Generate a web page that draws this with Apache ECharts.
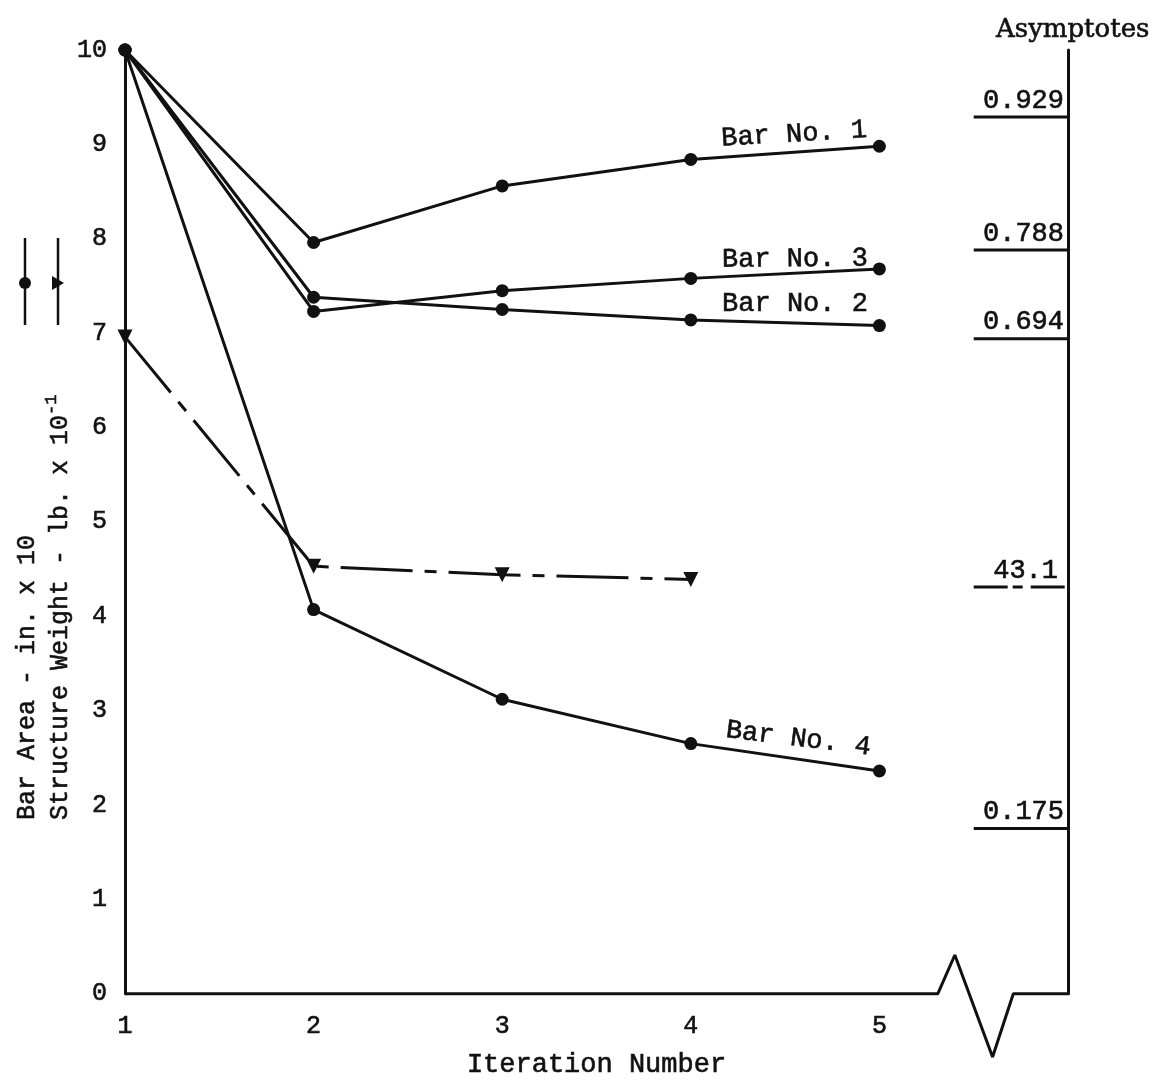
<!DOCTYPE html>
<html>
<head>
<meta charset="utf-8">
<script src="https://cdn.jsdelivr.net/npm/echarts@6/dist/echarts.min.js"></script>
<style>
html, body { margin: 0; padding: 0; background: #fff; }
#chart { width: 1161px; height: 1084px; }
</style>
</head>
<body>
<div id="chart"></div>
<script>
// values (bar area in x 10, weight in lb x 10^-1)
var iterations = [1, 2, 3, 4, 5];
var bar1 = [10, 7.96, 8.56, 8.84, 8.98];
var bar2 = [10, 7.38, 7.25, 7.14, 7.08];
var bar3 = [10, 7.23, 7.45, 7.58, 7.68];
var bar4 = [10, 4.07, 3.12, 2.65, 2.36];
var weightIterations = [1, 2, 3, 4];
var weight = [6.96, 4.53, 4.44, 4.39];
var asymptoteValues = [9.29, 7.88, 6.94, 4.31, 1.75];
var asymptoteLabels = ['0.929', '0.788', '0.694', '43.1', '0.175'];
var xTicks = [1, 2, 3, 4, 5];
// x axis line with the break symbol
var axisBreak = [[1, 0], [5.31, 0], [5.40, 0.41], [5.60, -0.67], [5.71, 0], [6, 0]];

var ink = '#111';
var mono = 'Liberation Mono';
// typewriter text in the scan is a bit heavier than the regular face
var heavy = { textBorderColor: ink, textBorderWidth: 0.6 };

function monoText(size, extra) {
    var s = { color: ink, fontFamily: mono, fontSize: size, textBorderColor: heavy.textBorderColor, textBorderWidth: heavy.textBorderWidth };
    for (var k in extra) s[k] = extra[k];
    return s;
}

function barSeries(name, values, rot, off) {
    var data = iterations.map(function (x, i) {
        var d = { value: [x, values[i]] };
        if (i === values.length - 1) {
            d.label = monoText(27, {
                show: true, formatter: name, position: 'left', distance: 5,
                align: 'right', verticalAlign: 'bottom', rotate: rot, offset: off
            });
        }
        return d;
    });
    return {
        name: name, type: 'line', data: data,
        symbol: 'circle', symbolSize: 13,
        itemStyle: { color: ink },
        lineStyle: { color: ink, width: 3 },
        z: 3
    };
}

var series = [
    barSeries('Bar No. 1', bar1, 3.5, [0, -3]),
    barSeries('Bar No. 2', bar2, 0, [0, -8]),
    barSeries('Bar No. 3', bar3, 0.5, [0, 3]),
    barSeries('Bar No. 4', bar4, -7, [0, -10]),
    {
        name: 'Structure Weight', type: 'line',
        data: weightIterations.map(function (x, i) { return [x, weight[i]]; }),
        symbol: 'triangle', symbolRotate: 180, symbolSize: 15,
        itemStyle: { color: ink },
        lineStyle: { color: ink, width: 3, type: [72, 12, 12, 12] }
    },
    {
        name: 'axis', type: 'line', data: axisBreak, clip: false,
        symbol: 'none', lineStyle: { color: ink, width: 3 }, z: 4
    }
];

asymptoteValues.forEach(function (v, i) {
    series.push({
        name: 'asymptote ' + asymptoteLabels[i], type: 'line',
        data: [[5.5, v], {
            value: [6, v],
            label: monoText(27, {
                show: true, formatter: asymptoteLabels[i], position: 'top',
                align: 'right', distance: 3, offset: [i === 3 ? -10 : -4, 0]
            })
        }],
        symbol: 'circle', symbolSize: 0,
        itemStyle: { color: ink },
        lineStyle: { color: ink, width: 3, type: i === 3 ? [34, 5, 10, 8] : 'solid' }
    });
});

var myChart = echarts.init(document.getElementById('chart'));
var option = {
    backgroundColor: '#fff',
    animation: false,
    title: {
        text: 'Asymptotes', right: 6, top: 12,
        textStyle: { color: ink, fontFamily: 'DejaVu Serif', fontSize: 26, fontWeight: 'normal', textBorderColor: ink, textBorderWidth: 0.6 }
    },
    grid: { left: 125, right: 93, top: 50, bottom: 87 },
    xAxis: {
        type: 'value', min: 1, max: 6, interval: 1,
        name: 'Iteration Number', nameLocation: 'middle', nameGap: 58,
        nameTextStyle: monoText(27, {}),
        axisLine: { show: false },
        axisTick: { show: false },
        splitLine: { show: false },
        axisLabel: monoText(25, {
            margin: 20,
            formatter: function (v) { return xTicks.indexOf(v) >= 0 ? String(v) : ''; }
        })
    },
    yAxis: [{
        type: 'value', min: 0, max: 10, interval: 1,
        axisLine: { show: true, lineStyle: { color: ink, width: 3 } },
        axisTick: { show: false },
        splitLine: { show: false },
        axisLabel: monoText(25, { margin: 18 })
    }, {
        type: 'value', min: 0, max: 10, interval: 1, position: 'right',
        axisLine: { show: true, lineStyle: { color: ink, width: 3 } },
        axisTick: { show: false },
        splitLine: { show: false },
        axisLabel: { show: false }
    }],
    graphic: [
        { type: 'line', shape: { x1: 25, y1: 238, x2: 25, y2: 325 }, style: { stroke: ink, lineWidth: 2.5 } },
        { type: 'circle', shape: { cx: 25, cy: 283, r: 6 }, style: { fill: ink } },
        { type: 'line', shape: { x1: 58, y1: 238, x2: 58, y2: 325 }, style: { stroke: ink, lineWidth: 2.5 } },
        { type: 'polygon', shape: { points: [[52, 276], [52, 290], [64, 283]] }, style: { fill: ink } },
        {
            type: 'text', x: 27, y: 820, rotation: Math.PI / 2,
            style: {
                text: 'Bar Area - in. x 10', fill: ink, fontFamily: mono, fontSize: 25,
                align: 'left', verticalAlign: 'middle', stroke: ink, lineWidth: 0.6
            }
        },
        {
            type: 'text', x: 60, y: 820, rotation: Math.PI / 2,
            style: {
                text: 'Structure Weight - lb. x 10{sup|-1}', fill: ink, fontFamily: mono, fontSize: 25,
                align: 'left', verticalAlign: 'middle', lineHeight: 34, stroke: ink, lineWidth: 0.6,
                rich: { sup: { fontFamily: mono, fontSize: 17, verticalAlign: 'top', lineHeight: 34 } }
            }
        }
    ],
    series: series
};
myChart.setOption(option);
</script>
</body>
</html>
